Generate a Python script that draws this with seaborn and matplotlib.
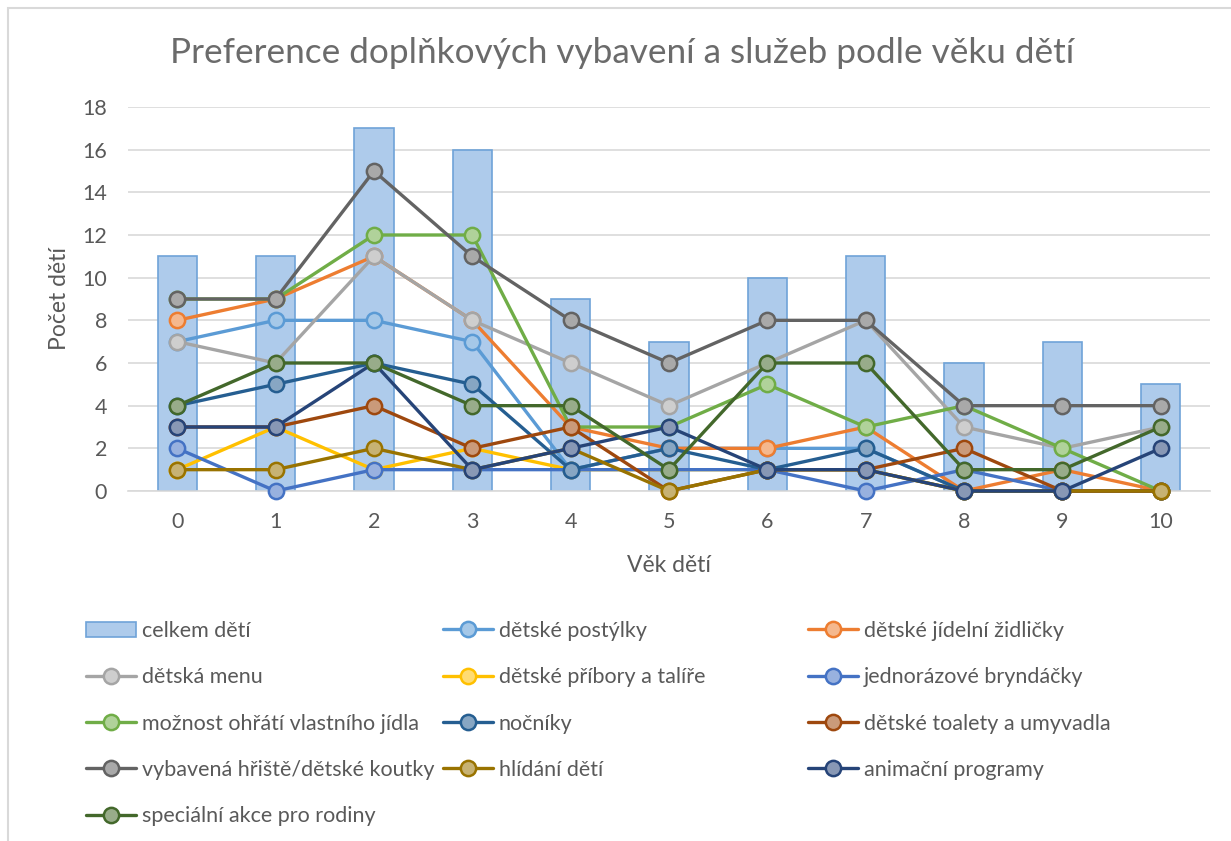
# Preference of extra equipment / services by children's age
import matplotlib
matplotlib.use('Agg')
import matplotlib.pyplot as plt
from matplotlib.lines import Line2D
from matplotlib.patches import Patch, Rectangle
from matplotlib.colors import to_rgb
import pandas as pd
import seaborn as sns

ages = [0, 1, 2, 3, 4, 5, 6, 7, 8, 9, 10]
celkem = [11, 11, 17, 16, 9, 7, 10, 11, 6, 7, 5]

postylky = [7, 8, 8, 7, 1, 2, 2, 2, 0, 0, 0]
zidlicky = [8, 9, 11, 8, 3, 2, 2, 3, 0, 1, 0]
menu = [7, 6, 11, 8, 6, 4, 6, 8, 3, 2, 3]
pribory = [1, 3, 1, 2, 1, 1, 1, 1, 0, 0, 0]
bryndacky = [2, 0, 1, 1, 1, 1, 1, 0, 1, 0, 0]
ohrati = [9, 9, 12, 12, 3, 3, 5, 3, 4, 2, 0]
nocniky = [4, 5, 6, 5, 1, 2, 1, 2, 0, 0, 0]
toalety = [3, 3, 4, 2, 3, 0, 1, 1, 2, 0, 0]
hriste = [9, 9, 15, 11, 8, 6, 8, 8, 4, 4, 4]
hlidani = [1, 1, 2, 1, 2, 0, 1, 1, 0, 0, 0]
animacni = [3, 3, 6, 1, 2, 3, 1, 1, 0, 0, 2]
specialni = [4, 6, 6, 4, 4, 1, 6, 6, 1, 1, 3]

series = [
    ("dětské postýlky", postylky, "#5B9BD5"),
    ("dětské jídelní židličky", zidlicky, "#ED7D31"),
    ("dětská menu", menu, "#A5A5A5"),
    ("dětské příbory a talíře", pribory, "#FFC000"),
    ("jednorázové bryndáčky", bryndacky, "#4472C4"),
    ("možnost ohřátí vlastního jídla", ohrati, "#70AD47"),
    ("nočníky", nocniky, "#255E91"),
    ("dětské toalety a umyvadla", toalety, "#9E480E"),
    ("vybavená hřiště/dětské koutky", hriste, "#636363"),
    ("hlídání dětí", hlidani, "#997300"),
    ("animační programy", animacni, "#264478"),
    ("speciální akce pro rodiny", specialni, "#43682B"),
]

def lighter(c, f=0.45):
    r, g, b = to_rgb(c)
    return (r + (1 - r) * f, g + (1 - g) * f, b + (1 - b) * f)

sns.set_style("white")
plt.rcParams['font.family'] = ['Lato', 'DejaVu Sans']
TXT = '#595959'

fig = plt.figure(figsize=(12.31, 8.41), dpi=100)
W, H = 1231, 841
ax = fig.add_axes([128 / W, (H - 491) / H, (1210 - 128) / W, (491 - 107) / H])

# chart frame
fig.patches.append(Rectangle((8 / W, -0.1), 1.2, (H - 8) / H + 0.1, transform=fig.transFigure,
                             fill=False, edgecolor='#D9D9D9', linewidth=1.5))

bar_df = pd.DataFrame({'age': ages, 'count': celkem})
sns.barplot(data=bar_df, x='age', y='count', native_scale=True, width=0.4,
            color='#AECBEB', saturation=1, edgecolor='#6FA3D8', linewidth=1.2, ax=ax, zorder=2)

handles = [Patch(facecolor='#AECBEB', edgecolor='#6FA3D8', linewidth=1.2)]
labels = ["celkem dětí"]
for name, vals, col in series:
    df = pd.DataFrame({'age': ages, 'val': vals})
    sns.lineplot(data=df, x='age', y='val', color=col, linewidth=2.4, marker='o', markersize=11,
                 markerfacecolor=lighter(col), markeredgecolor=col, markeredgewidth=1.8,
                 ax=ax, zorder=3, clip_on=False)
    handles.append(Line2D([], [], color=col, linewidth=2.4, marker='o', markersize=11,
                          markerfacecolor=lighter(col), markeredgecolor=col, markeredgewidth=1.8))
    labels.append(name)

ax.set_xlim(-0.5, 10.5)
ax.set_ylim(0, 18)
ax.set_yticks(range(0, 19, 2))
ax.set_xticks(ages)
ax.grid(axis='y', color='#D9D9D9', linewidth=1.2, zorder=0)
ax.set_axisbelow(True)
for s in ['top', 'right', 'left']:
    ax.spines[s].set_visible(False)
ax.spines['bottom'].set_color('#D9D9D9')
ax.spines['bottom'].set_linewidth(1.2)
ax.tick_params(axis='both', length=0, labelsize=15.5, colors=TXT)
ax.tick_params(axis='y', pad=15)
ax.tick_params(axis='x', pad=15)
ax.set_xlabel('Věk dětí', fontsize=16.5, color=TXT, labelpad=17)
ax.set_ylabel('Počet dětí', fontsize=16.5, color=TXT, labelpad=9)
fig.text(0.5 * (170 + 1075) / W, 1 - 53 / H, 'Preference doplňkových vybavení a služeb podle věku dětí',
         ha='center', va='center', fontsize=25.3, color='#6b6b6b')

# legend: three columns, filled row by row
col_x = [86, 443, 808]
for c in range(3):
    idx = list(range(c, len(handles), 3))
    fig.legend([handles[i] for i in idx], [labels[i] for i in idx], loc='upper left',
               bbox_to_anchor=(col_x[c] / W, 1 - 621 / H), frameon=False, fontsize=15.5,
               labelcolor=TXT, handlelength=2.3, handletextpad=0.3, labelspacing=1.22,
               borderpad=0, borderaxespad=0)

plt.savefig('out.png', dpi=100)
